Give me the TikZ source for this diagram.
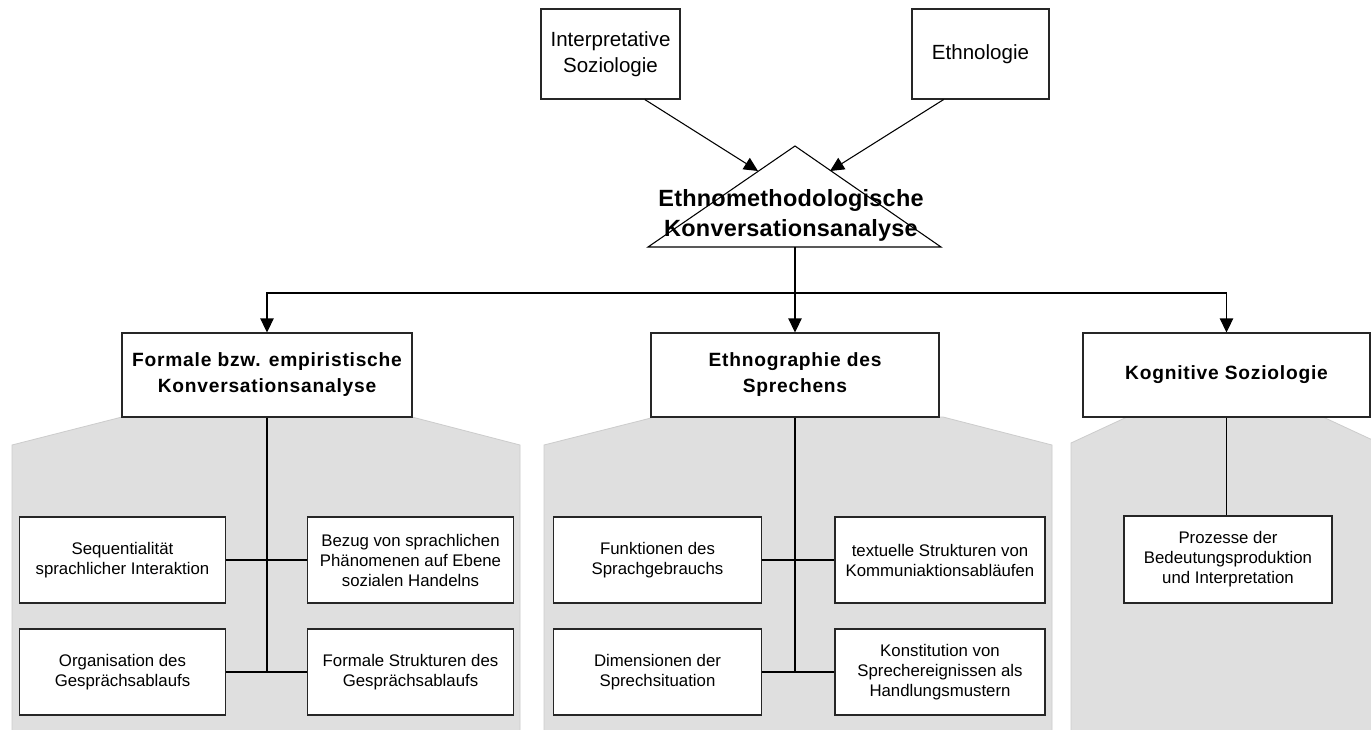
\documentclass[tikz,border=0pt]{standalone}
\usepackage{fontspec}
\setmainfont{Liberation Sans}
\newfontfamily\headfont[LetterSpace=4]{Liberation Sans}
\newfontfamily\titlefont[LetterSpace=1]{Liberation Sans}
\usetikzlibrary{arrows.meta}

\tikzset{every picture/.style={line width=0.8pt}}
\tikzset{
  box/.style={draw=black!85, fill=white, align=center, inner sep=0pt},
  leafbox/.style={box, minimum width=155pt, minimum height=64.5pt, font=\fontsize{12.6}{15}\selectfont},
  topbox/.style={box, minimum height=67.5pt, font=\fontsize{15.4}{20}\selectfont},
  headbox/.style={box, minimum height=63pt, font=\headfont\bfseries\fontsize{14.4}{19.5}\selectfont},
  panel/.style={fill=gray!25, draw=gray!40, line width=0.6pt},
  arr/.style={-{Triangle[length=10.5pt,width=10pt]}}
}

\begin{document}
\begin{tikzpicture}[x=0.75pt,y=0.75pt,yscale=-1, xscale=1]
\clip (0,0) rectangle (1371,729);
\fill[white] (0,0) rectangle (1371,729);

%Shape: grey panels behind the three branches
\draw[panel] (12,735) -- (12,445) -- (122,417) -- (412,417) -- (520,445) -- (520,735) -- cycle;
\draw[panel] (544,735) -- (544,445) -- (655,417) -- (943,417) -- (1052,445) -- (1052,735) -- cycle;
\draw[panel] (1071,735) -- (1071,443) -- (1127,417) -- (1323,417) -- (1379,443) -- (1379,735) -- cycle;

%Shape: top boxes
\node[topbox, minimum width=104.25pt] (interp) at (610.5,54) {\raisebox{-2pt}{\begin{tabular}{@{}c@{}}Interpretative\\Soziologie\end{tabular}}};
\node[topbox, minimum width=102.75pt] (ethnol) at (980.5,54) {Ethnologie};

%Shape: Triangle
\coordinate (apex) at (795,146);
\coordinate (triL) at (648,247);
\coordinate (triR) at (941,247);
\draw[fill=white] (triL) -- (apex) -- (triR) -- cycle;
\coordinate (hitL) at (758,171);
\coordinate (hitR) at (830,171);
\coordinate (tribase) at (795,247);
\coordinate (split) at (795,293);

% Text Node
\node[font=\titlefont\bfseries\fontsize{17.6}{22.5}\selectfont, align=center, inner sep=0pt] (ekta) at (791,215) {Ethnomethodologische\\Konversationsanalyse};

\draw[arr] (interp.-53) -- (hitL);
\draw[arr] (ethnol.-129) -- (hitR);

%Shape: second level
\node[headbox, minimum width=217.5pt] (formal) at (267,375) {Formale bzw. empiristische\\Konversationsanalyse};
\node[headbox, minimum width=216pt] (ethgr) at (795,375) {Ethnographie des\\Sprechens};
\node[headbox, minimum width=215.25pt] (kogsoz) at (1226.5,375) {Kognitive Soziologie};

\draw (tribase) -- (split);
\draw[arr] (split) -| (formal.north);
\draw[arr] (split) -| (kogsoz.north);
\draw[arr] (split) -- (ethgr.north);

%Shape: left branch
\node[leafbox] (seq) at (122.5,560) {Sequentialität\\sprachlicher Interaktion};
\node[leafbox] (bezug) at (410.5,560) {Bezug von sprachlichen\\Phänomenen auf Ebene\\sozialen Handelns};
\node[leafbox] (organ) at (122.5,672) {Organisation des\\Gesprächsablaufs};
\node[leafbox] (fstrukt) at (410.5,672) {Formale Strukturen des\\Gesprächsablaufs};

\draw (formal.south) -- (formal.south |- organ.east);
\draw (seq.east) -- (bezug.west);
\draw (organ.east) -- (fstrukt.west);

%Shape: middle branch
\node[leafbox, minimum width=156pt] (funkt) at (657.5,560) {Funktionen des\\Sprachgebrauchs};
\node[leafbox, minimum width=157.5pt] (textst) at (940,560) {textuelle Strukturen von\\Kommuniaktionsabläufen};
\node[leafbox, minimum width=156pt] (dimens) at (657.5,672) {Dimensionen der\\Sprechsituation};
\node[leafbox, minimum width=157.5pt] (konst) at (940,672) {Konstitution von\\Sprechereignissen als\\Handlungsmustern};

\draw (ethgr.south) -- (ethgr.south |- dimens.east);
\draw (funkt.east) -- (textst.west);
\draw (dimens.east) -- (konst.west);

%Shape: right branch
\node[leafbox, minimum width=156pt, minimum height=65.25pt] (prozess) at (1228,559.5) {Prozesse der\\Bedeutungsproduktion\\und Interpretation};
\draw (kogsoz.south) -- (kogsoz.south |- prozess.north);
\end{tikzpicture}
\end{document}
